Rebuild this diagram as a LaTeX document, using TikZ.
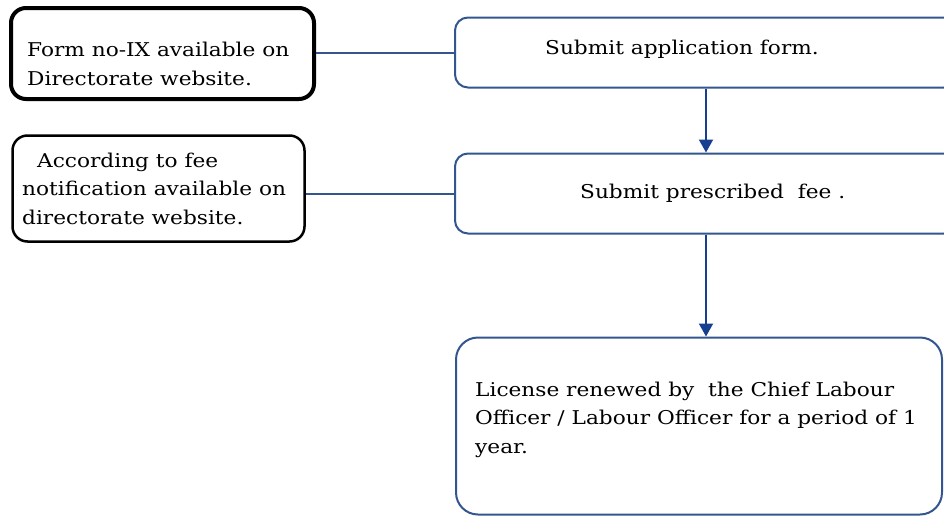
\documentclass[tikz,border=0pt]{standalone}
\usepackage{fontspec}
\setmainfont{DejaVu Serif}[FakeStretch=1.14]
\usetikzlibrary{arrows.meta}
\definecolor{linkblue}{HTML}{34568F}
\definecolor{arrowblue}{HTML}{173F8F}
\tikzset{
  txt/.style={anchor=base west, inner sep=0pt, align=left,
    font=\fontsize{19pt}{28.5pt}\selectfont},
  sidebox/.style={draw=black, rounded corners=15pt},
  stepbox/.style={draw=linkblue, line width=2pt, rounded corners=13pt},
  link/.style={draw=linkblue, line width=2pt},
  flow/.style={draw=arrowblue, line width=2pt,
    -{Triangle[width=14pt,length=13pt]}},
}
\begin{document}
\begin{tikzpicture}[x=1pt,y=-1pt]
  \useasboundingbox (0,0) rectangle (944,517);
  \clip (0,0) rectangle (944,517);
  \fill[white] (0,0) rectangle (944,517);

  % information boxes on the left
  \node[sidebox, line width=4pt, minimum width=303pt, minimum height=91pt] (form) at (162.5,53.5) {};
  \node[sidebox, line width=2.5pt, minimum width=292pt, minimum height=106pt] (fee) at (158.5,188.5) {};

  % process steps
  \node[stepbox, minimum width=502pt, minimum height=70pt] (apply) at (706,52.5) {};
  \node[stepbox, minimum width=502pt, minimum height=80pt] (pay) at (706,193.5) {};
  \node[stepbox, rounded corners=22pt, minimum width=486pt, minimum height=177pt] (renew) at (699,426) {};

  % texts (anchored on the baseline of their last line)
  \node[txt] (formtxt) at (27,85) {Form no-IX available on\\Directorate website.};
  \node[txt] (feetxt) at (22,224) {\hspace*{15pt}According to fee\\notification available on\\directorate website.};
  \node[txt] (applytxt) at (545,54) {Submit application form.};
  \node[txt] (paytxt) at (580,198) {Submit prescribed~ fee .};
  \node[txt] (renewtxt) at (475,453) {License renewed by~ the Chief Labour\\Officer / Labour Officer for a period of 1\\year.};

  % connectors
  \draw[link] (apply.west -| form.east) -- (apply.west);
  \draw[link] (pay.west -| fee.east) -- (pay.west);
  \draw[flow] (apply.south) -- (pay.north);
  \draw[flow] (pay.south) -- (pay.south |- renew.north);
\end{tikzpicture}
\end{document}
